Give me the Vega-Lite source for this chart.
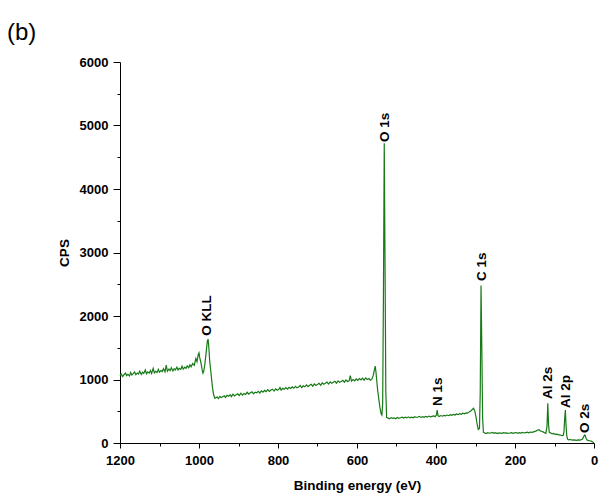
{
  "$schema": "https://vega.github.io/schema/vega-lite/v6.json",
  "autosize": "none",
  "padding": {"left": 120, "top": 62, "right": 8, "bottom": 58},
  "width": 474,
  "height": 381,
  "background": "white",
  "config": {
    "view": {"stroke": null},
    "axis": {"grid": false, "domainColor": "black", "tickColor": "black", "domainWidth": 1, "tickWidth": 1, "format": "d", "labelFlush": false, "labelOverlap": false,
      "labelFont": "Liberation Sans", "labelFontWeight": "bold", "labelFontSize": 13, "labelColor": "black",
      "titleFont": "Liberation Sans", "titleFontWeight": "bold", "titleFontSize": 13.5, "titleColor": "black"}
  },
  "title": {"text": "(b)", "anchor": "start", "frame": "group", "dx": -113, "font": "Liberation Sans", "fontSize": 24, "fontWeight": "normal", "color": "black", "offset": 11},
  "datasets": {
    "spectrum": [
      {"e":1200,"cps":1060},{"e":1197,"cps":1085},{"e":1193,"cps":1045},{"e":1190,"cps":1075},{"e":1186,"cps":1100},{"e":1183,"cps":1060},{"e":1180,"cps":1080},{"e":1176,"cps":1055},{"e":1173,"cps":1110},{"e":1170,"cps":1070},{"e":1166,"cps":1095},{"e":1163,"cps":1120},{"e":1160,"cps":1075},{"e":1156,"cps":1100},{"e":1153,"cps":1085},{"e":1150,"cps":1130},{"e":1146,"cps":1080},{"e":1143,"cps":1115},{"e":1140,"cps":1095},{"e":1136,"cps":1150},{"e":1133,"cps":1090},{"e":1130,"cps":1120},{"e":1126,"cps":1100},{"e":1123,"cps":1140},{"e":1120,"cps":1095},{"e":1116,"cps":1175},{"e":1113,"cps":1105},{"e":1110,"cps":1130},{"e":1106,"cps":1110},{"e":1103,"cps":1160},{"e":1100,"cps":1115},{"e":1096,"cps":1140},{"e":1093,"cps":1125},{"e":1090,"cps":1170},{"e":1086,"cps":1120},{"e":1083,"cps":1225},{"e":1080,"cps":1130},{"e":1076,"cps":1165},{"e":1073,"cps":1140},{"e":1070,"cps":1185},{"e":1066,"cps":1135},{"e":1063,"cps":1170},{"e":1060,"cps":1150},{"e":1056,"cps":1195},{"e":1053,"cps":1150},{"e":1050,"cps":1175},{"e":1046,"cps":1160},{"e":1043,"cps":1210},{"e":1040,"cps":1165},{"e":1036,"cps":1195},{"e":1033,"cps":1175},{"e":1030,"cps":1215},{"e":1026,"cps":1185},{"e":1023,"cps":1230},{"e":1020,"cps":1200},{"e":1016,"cps":1250},{"e":1012,"cps":1225},{"e":1008,"cps":1330},{"e":1005,"cps":1280},{"e":1002,"cps":1390},{"e":1000,"cps":1420},{"e":998,"cps":1340},{"e":995,"cps":1260},{"e":992,"cps":1150},{"e":990,"cps":1100},{"e":988,"cps":1130},{"e":985,"cps":1250},{"e":982,"cps":1420},{"e":979,"cps":1600},{"e":977,"cps":1635},{"e":975,"cps":1500},{"e":973,"cps":1300},{"e":970,"cps":1120},{"e":968,"cps":1000},{"e":966,"cps":880},{"e":963,"cps":760},{"e":960,"cps":705},{"e":957,"cps":715},
      {"e":954,"cps":725},{"e":951,"cps":700},{"e":947,"cps":735},{"e":944,"cps":715},{"e":940,"cps":730},{"e":936,"cps":745},{"e":933,"cps":718},{"e":929,"cps":750},{"e":925,"cps":735},{"e":921,"cps":760},{"e":918,"cps":730},{"e":914,"cps":768},{"e":910,"cps":742},{"e":906,"cps":758},{"e":902,"cps":775},{"e":898,"cps":748},{"e":894,"cps":785},{"e":890,"cps":755},{"e":886,"cps":780},{"e":882,"cps":765},{"e":878,"cps":798},{"e":874,"cps":768},{"e":870,"cps":790},{"e":866,"cps":805},{"e":862,"cps":775},{"e":858,"cps":800},{"e":854,"cps":790},{"e":850,"cps":815},{"e":846,"cps":788},{"e":842,"cps":822},{"e":838,"cps":800},{"e":834,"cps":828},{"e":830,"cps":808},{"e":826,"cps":840},{"e":822,"cps":812},{"e":818,"cps":835},{"e":814,"cps":848},{"e":810,"cps":818},{"e":806,"cps":852},{"e":802,"cps":830},{"e":798,"cps":845},{"e":795,"cps":875},{"e":792,"cps":832},{"e":788,"cps":860},{"e":784,"cps":845},{"e":780,"cps":872},{"e":776,"cps":848},{"e":772,"cps":878},{"e":768,"cps":858},{"e":764,"cps":884},{"e":760,"cps":862},{"e":756,"cps":892},{"e":752,"cps":868},{"e":748,"cps":880},{"e":744,"cps":905},{"e":740,"cps":872},{"e":736,"cps":900},{"e":732,"cps":885},{"e":728,"cps":915},{"e":724,"cps":888},{"e":720,"cps":910},{"e":716,"cps":925},{"e":712,"cps":895},{"e":708,"cps":930},{"e":704,"cps":905},{"e":700,"cps":922},{"e":696,"cps":940},{"e":692,"cps":910},{"e":688,"cps":948},{"e":684,"cps":925},{"e":680,"cps":940},{"e":676,"cps":958},{"e":672,"cps":928},{"e":668,"cps":962},{"e":664,"cps":940},{"e":660,"cps":955},{"e":656,"cps":972},{"e":652,"cps":942},{"e":648,"cps":978},{"e":644,"cps":955},{"e":640,"cps":970},{"e":636,"cps":988},{"e":632,"cps":958},{"e":628,"cps":992},{"e":624,"cps":968},{"e":620,"cps":980},{"e":617,"cps":1060},{"e":614,"cps":975},{"e":610,"cps":1000},{"e":606,"cps":978},{"e":602,"cps":1008},{"e":598,"cps":985},{"e":594,"cps":1015},{"e":590,"cps":995},{"e":586,"cps":1022},{"e":582,"cps":990},{"e":578,"cps":1025},{"e":574,"cps":1000},
      {"e":570,"cps":1015},{"e":566,"cps":990},{"e":562,"cps":1010},{"e":559,"cps":1060},{"e":556,"cps":1150},{"e":554,"cps":1210},{"e":552,"cps":1120},{"e":550,"cps":980},{"e":548,"cps":850},{"e":545,"cps":700},{"e":542,"cps":560},{"e":539,"cps":460},{"e":537,"cps":440},{"e":535,"cps":620},{"e":533,"cps":2400},{"e":531,"cps":4720},{"e":529,"cps":2800},{"e":527,"cps":800},{"e":525,"cps":400},
      {"e":522,"cps":395},{"e":518,"cps":380},{"e":514,"cps":400},{"e":510,"cps":388},{"e":506,"cps":395},{"e":502,"cps":382},{"e":498,"cps":402},{"e":494,"cps":390},{"e":490,"cps":398},{"e":486,"cps":408},{"e":482,"cps":392},{"e":478,"cps":405},{"e":474,"cps":395},{"e":470,"cps":412},{"e":466,"cps":398},{"e":462,"cps":408},{"e":458,"cps":396},{"e":454,"cps":414},{"e":450,"cps":402},{"e":446,"cps":410},{"e":442,"cps":420},{"e":438,"cps":403},{"e":434,"cps":416},{"e":430,"cps":406},{"e":426,"cps":420},{"e":422,"cps":410},{"e":418,"cps":424},{"e":414,"cps":412},{"e":410,"cps":420},{"e":406,"cps":428},{"e":402,"cps":415},{"e":399,"cps":440},{"e":397,"cps":520},{"e":395,"cps":430},{"e":392,"cps":418},{"e":388,"cps":432},{"e":384,"cps":422},{"e":380,"cps":436},{"e":376,"cps":428},{"e":372,"cps":440},{"e":368,"cps":430},{"e":364,"cps":446},{"e":360,"cps":436},{"e":356,"cps":450},{"e":352,"cps":440},{"e":348,"cps":456},{"e":344,"cps":446},{"e":340,"cps":462},{"e":336,"cps":452},{"e":332,"cps":468},{"e":328,"cps":460},{"e":324,"cps":474},{"e":320,"cps":470},{"e":316,"cps":490},{"e":312,"cps":505},{"e":308,"cps":530},{"e":305,"cps":548},{"e":302,"cps":510},{"e":299,"cps":420},{"e":296,"cps":300},{"e":293,"cps":215},{"e":290,"cps":230},{"e":288,"cps":800},{"e":286,"cps":2480},{"e":284,"cps":1500},{"e":282,"cps":400},{"e":280,"cps":170},
      {"e":277,"cps":160},{"e":273,"cps":150},{"e":269,"cps":162},{"e":265,"cps":154},{"e":261,"cps":158},{"e":257,"cps":166},{"e":253,"cps":152},{"e":249,"cps":163},{"e":245,"cps":150},{"e":241,"cps":160},{"e":237,"cps":156},{"e":233,"cps":152},{"e":229,"cps":164},{"e":225,"cps":155},{"e":221,"cps":160},{"e":217,"cps":150},{"e":213,"cps":158},{"e":209,"cps":162},{"e":205,"cps":152},{"e":201,"cps":160},{"e":197,"cps":165},{"e":193,"cps":152},{"e":189,"cps":162},{"e":185,"cps":157},{"e":181,"cps":166},{"e":177,"cps":158},{"e":173,"cps":164},{"e":169,"cps":170},{"e":165,"cps":160},{"e":161,"cps":172},{"e":157,"cps":168},{"e":153,"cps":175},{"e":149,"cps":182},{"e":145,"cps":195},{"e":142,"cps":205},{"e":139,"cps":210},{"e":136,"cps":190},{"e":133,"cps":185},{"e":129,"cps":175},{"e":125,"cps":160},{"e":122,"cps":150},{"e":119,"cps":260},{"e":117,"cps":625},{"e":115,"cps":280},{"e":113,"cps":165},{"e":110,"cps":160},{"e":106,"cps":145},{"e":102,"cps":150},{"e":98,"cps":135},{"e":94,"cps":140},{"e":90,"cps":128},{"e":86,"cps":130},{"e":82,"cps":115},{"e":78,"cps":120},{"e":76,"cps":180},{"e":74,"cps":400},{"e":72.5,"cps":520},{"e":71,"cps":300},{"e":69,"cps":120},{"e":67,"cps":60},{"e":64,"cps":50},{"e":60,"cps":55},{"e":55,"cps":45},{"e":50,"cps":50},{"e":45,"cps":42},{"e":40,"cps":48},{"e":35,"cps":45},{"e":30,"cps":60},{"e":27,"cps":85},{"e":24,"cps":125},{"e":22,"cps":120},{"e":20,"cps":70},{"e":17,"cps":45},{"e":14,"cps":38},{"e":10,"cps":35},{"e":6,"cps":25},{"e":3,"cps":15},{"e":0,"cps":5}
    ],
    "labels": [
      {"label":"O KLL","e":980,"cps":1690},
      {"label":"O 1s","e":529,"cps":4740},
      {"label":"N 1s","e":394,"cps":583},
      {"label":"C 1s","e":284,"cps":2550},
      {"label":"Al 2s","e":117,"cps":693},
      {"label":"Al 2p","e":71,"cps":551},
      {"label":"O 2s","e":23,"cps":158}
    ]
  },
  "layer": [
    {
      "data": {"name": "spectrum"},
      "mark": {"type": "line", "color": "#167a16", "strokeWidth": 1.2},
      "encoding": {
        "x": {"field": "e", "type": "quantitative",
          "scale": {"domain": [0, 1200], "reverse": true, "nice": false, "zero": false},
          "axis": {"title": "Binding energy (eV)", "values": [0,200,400,600,800,1000,1200], "tickSize": 5, "labelPadding": 6, "titlePadding": 11, "orient": "bottom"}},
        "y": {"field": "cps", "type": "quantitative",
          "scale": {"domain": [0, 6000], "nice": false},
          "axis": {"title": "CPS", "values": [0,1000,2000,3000,4000,5000,6000], "tickSize": 7, "labelPadding": 5, "titlePadding": 8, "orient": "left"}},
        "order": {"field": "e", "sort": "descending"}
      }
    },
    {
      "data": {"name": "labels"},
      "mark": {"type": "text", "angle": 270, "align": "left", "baseline": "middle", "font": "Liberation Sans", "fontWeight": "bold", "fontSize": 13.5, "color": "black"},
      "encoding": {
        "x": {"field": "e", "type": "quantitative",
          "axis": {"title": null, "values": [100,300,500,700,900,1100], "tickSize": 3, "labels": false, "domain": false, "orient": "bottom"}},
        "y": {"field": "cps", "type": "quantitative",
          "axis": {"title": null, "values": [500,1500,2500,3500,4500,5500], "tickSize": 3, "labels": false, "domain": false, "orient": "left"}},
        "text": {"field": "label"}
      }
    }
  ],
  "resolve": {"axis": {"x": "independent", "y": "independent"}}
}
